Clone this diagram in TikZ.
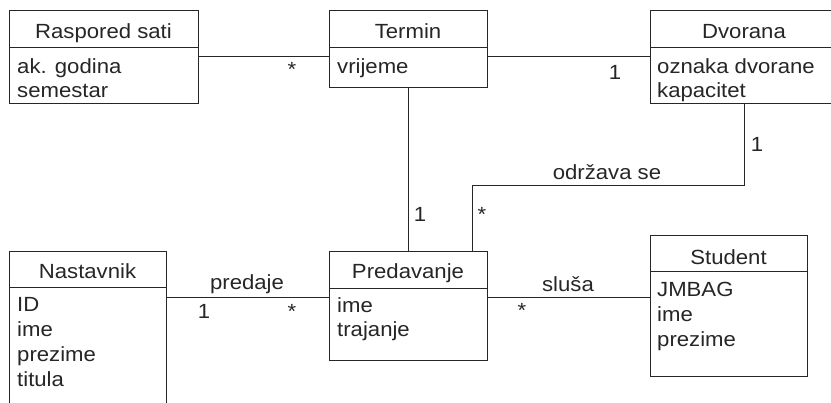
\documentclass[tikz,border=0pt]{standalone}
\usepackage{fontspec}
\setmainfont{Liberation Sans}[FakeStretch=1.08]
\begin{document}
\begin{tikzpicture}[x=1pt,y=-1pt,
  box/.style={draw=black!85, line width=1pt, fill=white, inner sep=0pt, outer sep=0pt, anchor=north west},
  txt/.style={inner sep=0pt, text=black!85, font=\fontsize{20.5}{24}\selectfont},
  ttl/.style={txt, anchor=base},
  attr/.style={txt, anchor=base west},
  lbl/.style={txt, anchor=center},
  conn/.style={draw=black!85, line width=1pt}]
\useasboundingbox (0,0) rectangle (831,403);
\clip (0,0) rectangle (831,403);
% classes
\node[box, minimum width=189pt, minimum height=93pt] (rasp) at (9,11) {};
\draw[conn] (rasp.west |- 0,48) -- (rasp.east |- 0,48);
\node[ttl] (raspT) at (103.5,39) {Raspored sati};
\node[attr] (raspA1) at (17,74) {ak. godina};
\node[attr] (raspA2) at (17,98) {semestar};

\node[box, minimum width=158pt, minimum height=77pt] (term) at (329,11) {};
\draw[conn] (term.west |- 0,48) -- (term.east |- 0,48);
\node[ttl] (termT) at (408,39) {Termin};
\node[attr] (termA1) at (337,74) {vrijeme};

\node[box, minimum width=188pt, minimum height=93pt] (dvor) at (650,11) {};
\draw[conn] (dvor.west |- 0,48) -- (dvor.east |- 0,48);
\node[ttl] (dvorT) at (744,39) {Dvorana};
\node[attr] (dvorA1) at (657,74) {oznaka dvorane};
\node[attr] (dvorA2) at (657,98) {kapacitet};

\node[box, minimum width=157pt, minimum height=170pt] (nast) at (9,252) {};
\draw[conn] (nast.west |- 0,288) -- (nast.east |- 0,288);
\node[ttl] (nastT) at (87.5,279) {Nastavnik};
\node[attr] (nastA1) at (17,312) {ID};
\node[attr] (nastA2) at (17,337) {ime};
\node[attr] (nastA3) at (17,362) {prezime};
\node[attr] (nastA4) at (17,387) {titula};

\node[box, minimum width=158pt, minimum height=109pt] (pred) at (329,252) {};
\draw[conn] (pred.west |- 0,289) -- (pred.east |- 0,289);
\node[ttl] (predT) at (408,279) {Predavanje};
\node[attr] (predA1) at (337,313) {ime};
\node[attr] (predA2) at (337,337) {trajanje};

\node[box, minimum width=157pt, minimum height=141pt] (stud) at (650,236) {};
\draw[conn] (stud.west |- 0,272) -- (stud.east |- 0,272);
\node[ttl] (studT) at (728.5,265) {Student};
\node[attr] (studA1) at (657,297) {JMBAG};
\node[attr] (studA2) at (657,322) {ime};
\node[attr] (studA3) at (657,347) {prezime};

% connectors
\draw[conn] (rasp.east |- 0,57) -- (term.west |- 0,57);
\draw[conn] (term.east |- 0,57) -- (dvor.west |- 0,57);
\draw[conn] (term.south) -- (pred.north);
\coordinate (b1) at (744,186);
\coordinate (b2) at (472,186);
\draw[conn] (dvor.south -| b1) -- (b1) -- (b2) -- (pred.north -| b2);
\draw[conn] (nast.east |- 0,298) -- (pred.west |- 0,298);
\draw[conn] (pred.east |- 0,298) -- (stud.west |- 0,298);

% labels
\node[lbl] (m1) at (292,69) {*};
\node[lbl] (m2) at (615,72) {1};
\node[lbl] (m3) at (757,144) {1};
\node[lbl] (l1) at (607,172) {održava se};
\node[lbl] (m4) at (482,214) {*};
\node[lbl] (m5) at (420,214) {1};
\node[lbl] (l2) at (247,284) {predaje};
\node[lbl] (m6) at (204,311) {1};
\node[lbl] (m7) at (292,311) {*};
\node[lbl] (l3) at (568,284) {sluša};
\node[lbl] (m8) at (522,310) {*};
\end{tikzpicture}
\end{document}
